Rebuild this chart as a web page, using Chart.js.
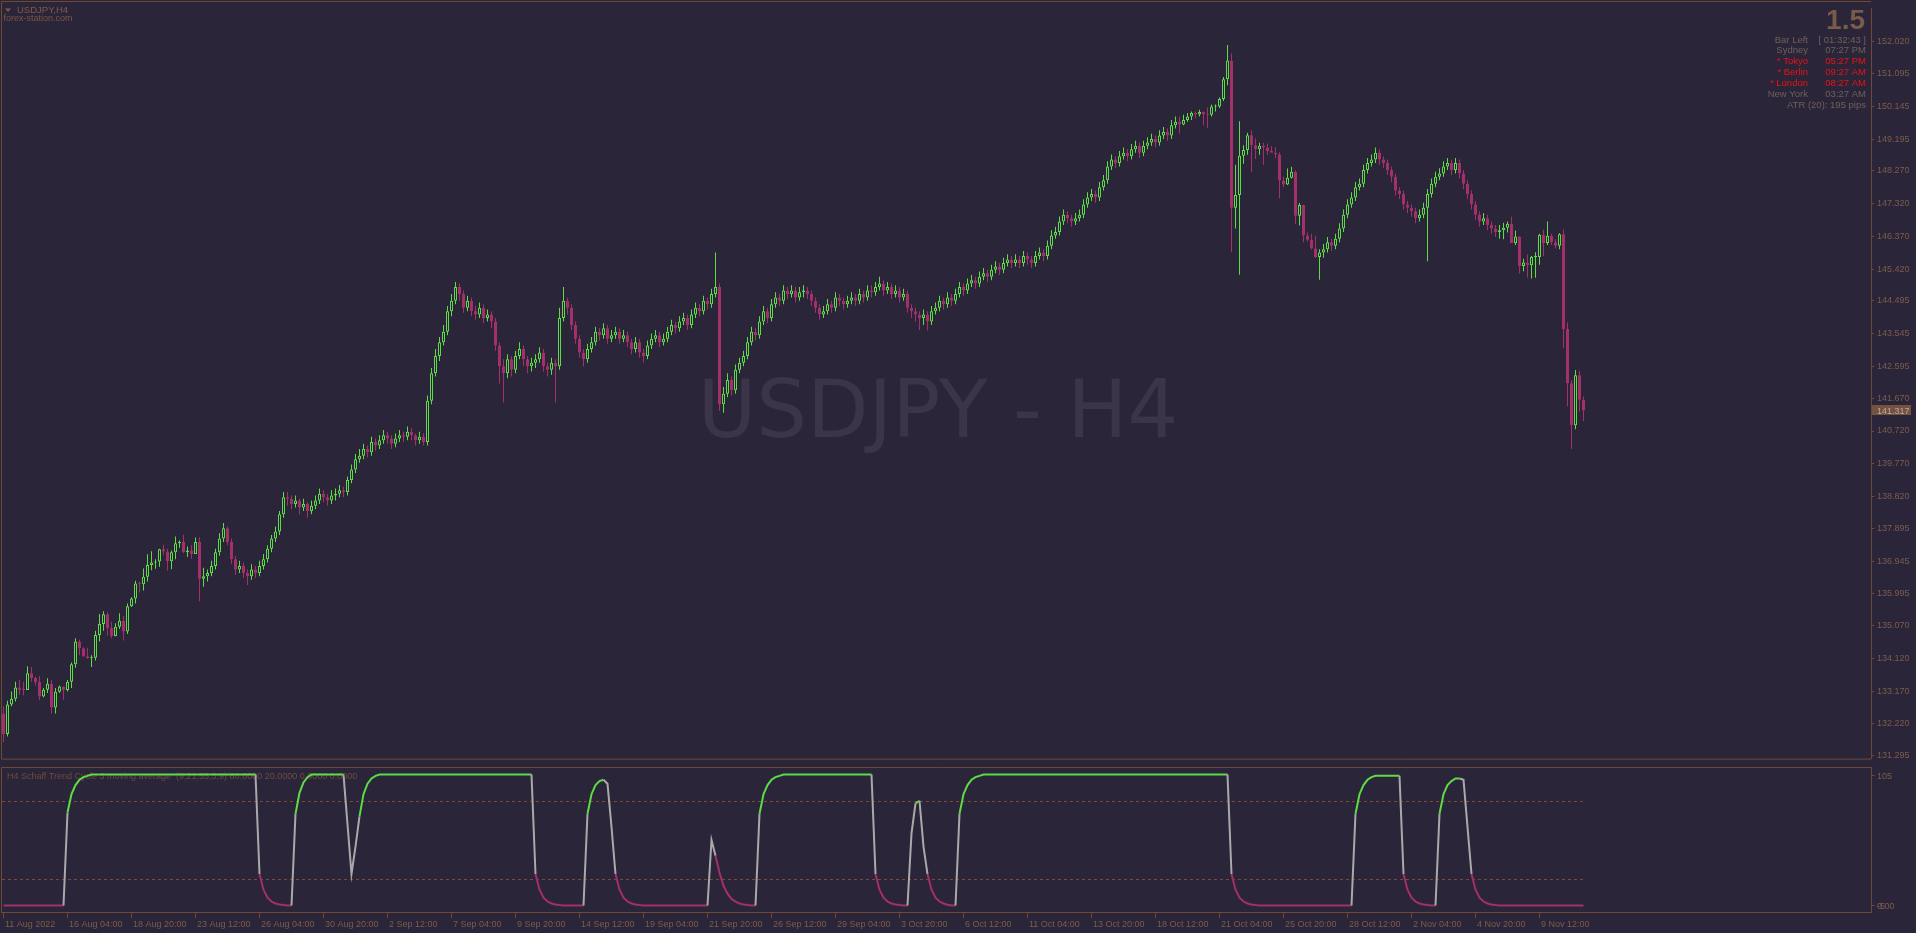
<!DOCTYPE html>
<html>
<head>
<meta charset="utf-8">
<title>USDJPY,H4</title>
<script src="https://cdn.jsdelivr.net/npm/chart.js@4.4.1/dist/chart.umd.min.js"></script>
<style>
  html, body { margin: 0; padding: 0; background: #2a2539; overflow: hidden; }
  #page { position: relative; width: 1916px; height: 933px; background: #2a2539; }
  canvas { position: absolute; left: 0; }
  #price-chart { top: 0; }
  #stc-chart { top: 767px; }
</style>
</head>
<body>
<div id="page">
  <canvas id="price-chart" width="1916" height="767"></canvas>
  <canvas id="stc-chart" width="1916" height="166"></canvas>
</div>
<script>
// --- Data ---
const firstOpen = 132.52;

const closes = [
  // 0
  131.92,132.78,132.95,133.27,133.21,133.20,133.69,133.55,133.43,133.01,
  133.21,133.38,132.69,133.15,133.30,133.20,133.44,133.95,134.61,134.41,
  134.18,134.12,134.14,134.80,135.12,135.40,135.00,134.77,135.04,135.21,
  134.90,135.63,135.86,136.29,136.27,136.49,136.83,136.90,136.93,137.29,
  137.22,136.94,137.20,137.46,137.50,137.21,137.25,137.15,137.50,136.43,
  // 50
  136.50,136.60,136.80,137.20,137.60,137.90,137.50,137.00,136.70,136.80,
  136.60,136.50,136.70,136.60,136.80,137.00,137.30,137.60,137.80,138.30,
  138.80,138.75,138.60,138.70,138.50,138.60,138.40,138.55,138.70,138.90,
  138.80,138.70,138.85,138.90,139.00,138.95,139.30,139.60,139.90,140.00,
  140.20,140.10,140.40,140.30,140.45,140.60,140.50,140.35,140.50,140.60,
  // 100
  140.55,140.70,140.60,140.45,140.55,140.40,141.60,142.40,142.90,143.30,
  143.60,144.20,144.50,144.90,144.70,144.30,144.50,144.20,144.10,144.30,
  144.00,144.10,143.90,143.20,142.60,142.40,142.80,142.50,142.90,143.10,
  142.80,142.60,142.70,142.80,143.00,142.60,142.50,142.70,142.60,144.00,
  144.50,144.30,143.80,143.40,143.00,142.80,143.10,143.30,143.60,143.50,
  // 150
  143.70,143.40,143.50,143.60,143.40,143.50,143.30,143.10,143.30,143.00,
  142.90,143.20,143.40,143.50,143.30,143.40,143.60,143.80,143.70,143.90,
  144.00,143.80,144.10,144.30,144.20,144.50,144.40,144.70,144.90,141.50,
  141.80,142.20,141.90,142.50,142.70,142.90,143.30,143.60,143.50,143.90,
  144.20,144.00,144.40,144.60,144.50,144.80,144.70,144.80,144.60,144.75,
  // 200
  144.80,144.70,144.50,144.30,144.10,144.20,144.40,144.30,144.60,144.50,
  144.40,144.50,144.60,144.50,144.70,144.60,144.80,144.75,144.90,145.00,
  144.80,144.90,144.70,144.80,144.60,144.70,144.30,144.20,144.10,144.00,
  144.10,143.90,144.20,144.30,144.50,144.40,144.60,144.50,144.70,144.90,
  144.80,145.00,145.10,145.00,145.20,145.30,145.20,145.40,145.50,145.40,
  // 250
  145.60,145.70,145.60,145.70,145.60,145.80,145.70,145.60,145.80,145.90,
  145.80,146.10,146.40,146.50,146.80,147.00,146.90,146.80,146.90,147.00,
  147.30,147.50,147.60,147.50,147.80,148.00,148.40,148.60,148.50,148.70,
  148.80,148.70,148.90,149.00,148.80,149.00,149.10,149.20,149.10,149.30,
  149.40,149.30,149.60,149.70,149.62,149.75,149.85,149.95,149.91,149.98,
  // 300
  149.92,149.90,150.14,150.14,150.36,150.93,151.48,147.20,147.57,148.71,
  148.88,149.31,149.02,148.90,149.00,148.95,148.85,148.80,148.75,147.99,
  147.88,148.07,148.25,146.97,147.28,146.40,146.27,146.02,145.77,145.90,
  146.00,146.20,146.10,146.30,146.60,147.00,147.30,147.50,147.80,147.90,
  148.30,148.50,148.60,148.80,148.60,148.50,148.30,148.10,147.70,147.60,
  // 350
  147.30,147.20,147.10,146.90,147.00,147.20,147.60,147.90,148.10,148.20,
  148.40,148.50,148.30,148.50,148.20,147.90,147.60,147.30,147.00,146.80,
  146.90,146.70,146.60,146.50,146.55,146.62,146.74,146.17,146.37,145.51,
  145.61,145.53,145.77,145.77,146.42,146.18,146.39,146.20,146.10,146.43,
  143.68,142.11,140.89,142.34,141.63,141.317
];

const highs = [
  // 0
  132.73,132.89,133.16,133.44,133.49,133.44,133.89,133.87,133.59,133.61,
  133.26,133.54,133.49,133.26,133.33,133.30,133.49,134.00,134.70,134.66,
  134.44,134.43,134.21,134.92,135.41,135.49,135.46,135.18,135.14,135.43,
  135.35,135.71,135.89,136.37,136.35,136.73,137.14,137.23,137.00,137.30,
  137.42,137.30,137.25,137.66,137.54,137.71,137.37,137.40,137.63,137.63,
  // 50
  136.75,136.70,136.95,137.30,137.75,138.05,137.95,137.60,137.10,136.95,
  136.90,136.70,136.85,136.80,136.95,137.15,137.40,137.70,137.95,138.40,
  138.95,138.95,138.85,138.85,138.75,138.75,138.65,138.70,138.85,139.05,
  139.00,138.90,139.00,139.05,139.15,139.10,139.40,139.75,140.05,140.20,
  140.35,140.30,140.55,140.50,140.60,140.75,140.70,140.60,140.65,140.75,
  // 100
  140.70,140.85,140.80,140.65,140.70,140.65,141.75,142.55,143.10,143.45,
  143.80,144.35,144.70,145.05,145.00,144.80,144.65,144.60,144.35,144.45,
  144.40,144.25,144.20,144.00,143.30,142.80,142.95,142.90,143.05,143.30,
  143.20,142.90,142.85,142.95,143.15,143.10,142.70,142.85,142.80,144.30,
  144.90,144.60,144.40,143.90,143.50,143.10,143.25,143.45,143.75,143.70,
  // 150
  143.85,143.80,143.65,143.75,143.70,143.65,143.60,143.40,143.45,143.40,
  143.10,143.35,143.55,143.65,143.60,143.55,143.75,143.95,143.90,144.05,
  144.15,144.10,144.25,144.45,144.40,144.65,144.60,144.85,145.90,145.00,
  142.00,142.40,142.30,142.65,142.85,143.05,143.45,143.75,143.70,144.05,
  144.35,144.30,144.55,144.75,144.70,144.95,144.90,144.95,144.90,144.90,
  // 200
  144.95,144.90,144.80,144.60,144.40,144.35,144.55,144.50,144.75,144.70,
  144.60,144.65,144.75,144.70,144.85,144.80,144.95,144.95,145.05,145.20,
  145.10,145.05,145.00,144.95,144.90,144.85,144.80,144.40,144.30,144.20,
  144.25,144.20,144.35,144.45,144.65,144.60,144.75,144.70,144.85,145.05,
  145.00,145.15,145.25,145.20,145.35,145.45,145.40,145.55,145.65,145.60,
  // 250
  145.75,145.85,145.80,145.85,145.80,145.95,145.90,145.80,145.95,146.05,
  146.00,146.25,146.55,146.65,146.95,147.15,147.10,147.00,147.05,147.15,
  147.45,147.65,147.75,147.70,147.95,148.15,148.55,148.75,148.70,148.85,
  148.95,148.90,149.05,149.15,149.10,149.15,149.25,149.35,149.30,149.45,
  149.55,149.50,149.75,149.85,149.85,149.90,149.95,150.00,150.00,150.05,
  // 300
  150.00,150.12,150.20,150.20,150.40,151.00,151.93,151.68,148.45,149.71,
  149.02,149.38,149.45,149.22,149.09,149.09,149.07,148.99,148.96,148.81,
  148.10,148.34,148.39,148.29,147.34,147.29,146.48,146.45,146.39,146.00,
  146.15,146.35,146.30,146.45,146.75,147.15,147.45,147.65,147.95,148.05,
  148.45,148.65,148.75,148.95,148.90,148.70,148.60,148.40,148.20,147.80,
  // 350
  147.70,147.40,147.30,147.20,147.15,147.35,147.75,148.05,148.25,148.35,
  148.55,148.65,148.60,148.65,148.60,148.30,148.00,147.70,147.40,147.10,
  147.05,147.00,146.80,146.70,146.70,146.77,146.80,146.94,146.54,146.37,
  145.72,145.85,145.80,145.91,146.45,146.56,146.80,146.45,146.29,146.46,
  146.57,143.88,142.20,142.49,142.46,141.72
];

const lows = [
  // 0
  131.69,131.85,132.73,132.87,133.06,133.04,133.21,133.44,133.33,132.90,
  132.99,133.11,132.52,132.52,133.11,132.92,133.16,133.26,133.85,134.21,
  134.16,134.11,133.87,134.06,134.61,134.92,134.78,134.70,134.76,134.97,
  134.64,134.83,135.61,135.71,136.03,136.09,136.35,136.68,136.72,136.78,
  137.11,136.66,136.71,137.00,137.33,137.18,137.06,137.01,137.16,135.78,
  // 50
  136.20,136.35,136.50,136.70,137.10,137.50,137.40,136.85,136.55,136.60,
  136.45,136.25,136.40,136.45,136.50,136.70,136.90,137.20,137.50,137.70,
  138.20,138.55,138.45,138.50,138.30,138.40,138.20,138.30,138.45,138.60,
  138.65,138.55,138.60,138.70,138.80,138.80,138.85,139.20,139.50,139.80,
  139.90,139.95,140.00,140.15,140.20,140.35,140.35,140.20,140.25,140.40,
  // 100
  140.40,140.45,140.45,140.30,140.35,140.30,140.30,141.50,142.30,142.75,
  143.20,143.50,144.05,144.40,144.50,144.15,144.20,144.05,143.95,144.00,
  143.85,143.90,143.70,143.05,142.10,141.55,142.25,142.30,142.40,142.80,
  142.60,142.40,142.45,142.55,142.70,142.45,142.30,142.35,141.55,142.50,
  143.90,144.10,143.65,143.25,142.85,142.60,142.70,143.00,143.20,143.35,
  // 150
  143.40,143.25,143.30,143.40,143.25,143.30,143.15,142.95,143.00,142.85,
  142.70,142.80,143.10,143.30,143.15,143.20,143.30,143.50,143.55,143.60,
  143.80,143.65,143.70,144.00,144.05,144.10,144.25,144.30,144.60,141.30,
  141.25,141.70,141.75,141.80,142.40,142.60,142.80,143.20,143.35,143.40,
  143.80,143.85,143.90,144.30,144.35,144.40,144.55,144.60,144.45,144.50,
  // 200
  144.60,144.55,144.35,144.15,143.95,144.00,144.10,144.15,144.20,144.35,
  144.25,144.30,144.40,144.35,144.40,144.45,144.50,144.60,144.65,144.80,
  144.65,144.70,144.55,144.60,144.45,144.50,144.15,144.00,143.90,143.65,
  143.80,143.64,143.80,144.10,144.20,144.25,144.30,144.35,144.40,144.60,
  144.65,144.70,144.90,144.85,144.90,145.10,145.05,145.10,145.30,145.25,
  // 250
  145.30,145.50,145.45,145.50,145.45,145.50,145.55,145.45,145.50,145.70,
  145.65,145.70,146.00,146.30,146.40,146.70,146.75,146.65,146.70,146.80,
  146.90,147.20,147.40,147.35,147.40,147.70,147.90,148.30,148.35,148.40,
  148.60,148.55,148.60,148.80,148.65,148.70,148.90,149.00,148.95,149.00,
  149.20,149.15,149.20,149.50,149.35,149.60,149.70,149.75,149.80,149.85,
  // 300
  149.60,149.51,149.85,150.00,150.10,150.30,150.76,145.91,146.60,145.26,
  148.48,148.74,148.23,148.62,148.74,148.45,148.74,148.83,148.64,147.48,
  147.80,147.86,148.05,146.72,146.69,146.20,146.22,145.99,145.74,145.11,
  145.75,145.90,145.95,146.00,146.20,146.50,146.90,147.20,147.40,147.70,
  147.80,148.20,148.40,148.50,148.45,148.35,148.15,147.95,147.55,147.45,
  // 350
  147.15,147.05,146.95,146.75,146.80,146.90,145.65,147.50,147.80,148.00,
  148.10,148.30,148.15,148.20,148.05,147.75,147.45,147.15,146.85,146.65,
  146.70,146.55,146.45,146.35,146.30,146.29,146.48,146.18,146.12,145.29,
  145.36,145.17,145.15,145.17,145.55,145.80,146.12,146.12,146.02,146.00,
  143.14,141.44,140.20,140.77,141.28,141.01
];

const stcValues = [
  // 0
  0,0,0,0,0,0,0,0,0,0,
  0,0,0,0,0,0,71,85,92,96,
  98,99,100,100,100,100,100,100,100,100,
  100,100,100,100,100,100,100,100,100,100,
  100,100,100,100,100,100,100,100,100,100,
  100,100,100,100,100,100,100,100,100,100,
  100,100,100,100,24,12,6,3,1.5,0.7,
  0.3,0,0,70,86,94,98,100,100,100,
  100,100,100,100,100,100,62,24,45,68,
  85,93,97,99,100,100,100,100,100,100,
  // 100
  100,100,100,100,100,100,100,100,100,100,
  100,100,100,100,100,100,100,100,100,100,
  100,100,100,100,100,100,100,100,100,100,
  100,100,100,24,12,6,3,1.5,0.7,0.3,
  0,0,0,0,0,0,70,85,92,95,
  96,93,60,24,12,6,3,1.5,0.7,0.3,
  0,0,0,0,0,0,0,0,0,0,
  0,0,0,0,0,0,0,50,38,25,
  15,9,5,3,1.5,0.8,0.3,0,0,70,
  85,92,96,98,99,100,100,100,100,100,
  // 200
  100,100,100,100,100,100,100,100,100,100,
  100,100,100,100,100,100,100,100,24,12,
  6,3,1.5,0.7,0.3,0,0,55,78,80,
  45,24,12,6,3,1.5,0.5,0,0,70,
  85,92,96,98,99,100,100,100,100,100,
  100,100,100,100,100,100,100,100,100,100,
  100,100,100,100,100,100,100,100,100,100,
  100,100,100,100,100,100,100,100,100,100,
  100,100,100,100,100,100,100,100,100,100,
  100,100,100,100,100,100,100,100,100,100,
  // 300
  100,100,100,100,100,100,100,24,12,6,
  3,1.5,0.7,0.3,0,0,0,0,0,0,
  0,0,0,0,0,0,0,0,0,0,
  0,0,0,0,0,0,0,0,70,85,
  92,96,98,99,99,99,99,99,99,99,
  24,12,6,3,1.5,0.7,0.3,0,0,70,
  85,92,95,97,97,96,60,24,12,6,
  3,1.5,0.7,0.3,0,0,0,0,0,0,
  0,0,0,0,0,0,0,0,0,0,
  0,0,0,0,0,0
];

const priceTicks = [
  152.020,151.095,150.145,149.195,148.270,147.320,146.370,145.420,144.495,143.545,
  142.595,141.670,140.720,139.770,138.820,137.895,136.945,135.995,135.070,134.120,
  133.170,132.220,131.295
];
const timeLabelBars = [0,16,32,48,64,80,96,112,128,144,160,176,192,208,224,240,256,272,288,304,320,336,352,368,384];
const timeLabels = [
  '11 Aug 2022','16 Aug 04:00','18 Aug 20:00','23 Aug 12:00','26 Aug 04:00','30 Aug 20:00',
  '2 Sep 12:00','7 Sep 04:00','9 Sep 20:00','14 Sep 12:00','19 Sep 04:00','21 Sep 20:00',
  '26 Sep 12:00','29 Sep 04:00','3 Oct 20:00','6 Oct 12:00','11 Oct 04:00','13 Oct 20:00',
  '18 Oct 12:00','21 Oct 04:00','25 Oct 20:00','28 Oct 12:00','2 Nov 04:00','4 Nov 20:00','9 Nov 12:00'
];
const stcLevels = [80, 20];
const infoRows = [
  ['Bar Left', '[ 01:32:43 ]', false],
  ['Sydney', '07:27 PM', false],
  ['* Tokyo', '05:27 PM', true],
  ['* Berlin', '09:27 AM', true],
  ['* London', '08:27 AM', true],
  ['New York', '03:27 AM', false]
];

// --- Colours ---
const BG = '#2a2539';
const GREEN = '#5cdc46';
const MAGENTA = '#a3306a';
const GRAY_LINE = '#a9a9a9';
const FRAME = '#6e4a36';
const AXIS_TEXT = '#7d5c4c';
const INFO_TEXT = '#6f605a';
const RED_TEXT = '#e81414';
const WATERMARK = '#3a3549';
const FONT = '"Liberation Sans", Arial, sans-serif';

const opens = closes.map((c, i) => (i === 0 ? firstOpen : closes[i - 1]));
const isUp = i => closes[i] >= opens[i];

const X_MIN = -0.375;
const X_MAX = 466.875;

// --- Price panel ---
const priceDecor = {
  id: 'priceDecor',
  beforeDatasetsDraw(chart) {
    const ctx = chart.ctx;
    ctx.save();
    ctx.fillStyle = WATERMARK;
    ctx.font = '80px "DejaVu Sans"';
    ctx.textAlign = 'center';
    ctx.fillText('USDJPY - H4', 938, 437);
    ctx.restore();
  },
  afterDraw(chart) {
    const { ctx, chartArea: a, scales: { y } } = chart;
    ctx.save();
    // frame
    ctx.strokeStyle = FRAME;
    ctx.lineWidth = 1;
    ctx.beginPath();
    ctx.moveTo(1.5, a.bottom + 0.5); ctx.lineTo(1.5, 1.5); ctx.lineTo(a.right, 1.5);
    ctx.moveTo(1.5, a.bottom + 0.5); ctx.lineTo(a.right, a.bottom + 0.5);
    ctx.stroke();

    // symbol caption
    ctx.fillStyle = '#83594a';
    ctx.beginPath();
    ctx.moveTo(5, 8.5); ctx.lineTo(11, 8.5); ctx.lineTo(8, 12);
    ctx.closePath(); ctx.fill();
    ctx.font = '9.5px ' + FONT;
    ctx.textAlign = 'left';
    ctx.fillText('USDJPY,H4', 17, 13.3);
    ctx.fillStyle = '#7a5646';
    ctx.font = '9px ' + FONT;
    ctx.fillText('forex-station.com', 3.5, 21);

    // info block
    ctx.textAlign = 'right';
    ctx.fillStyle = '#7a5a48';
    ctx.font = 'bold 28px ' + FONT;
    ctx.fillText('1.5', 1865, 29.3);
    ctx.font = '9.5px ' + FONT;
    infoRows.forEach((row, k) => {
      const base = 42.5 + k * 10.95;
      ctx.fillStyle = row[2] ? RED_TEXT : INFO_TEXT;
      ctx.fillText(row[0], 1808, base);
      ctx.fillText(row[1], 1866, base);
    });
    ctx.fillStyle = INFO_TEXT;
    ctx.fillText('ATR (20): 195 pips', 1866, 108.2);

    // last price box
    const last = closes[closes.length - 1];
    const py = y.getPixelForValue(last);
    ctx.fillStyle = '#75523f';
    ctx.fillRect(a.right + 1, Math.round(py) - 5, 39, 10);
    ctx.fillStyle = '#b9aaa0';
    ctx.textAlign = 'left';
    ctx.font = '9px ' + FONT;
    ctx.fillText(last.toFixed(3), 1877, Math.round(py) + 3.5);
    ctx.restore();
  }
};

new Chart(document.getElementById('price-chart'), {
  type: 'bar',
  data: {
    datasets: [
      {
        label: 'body',
        data: closes.map((c, i) => ({ x: i, y: [opens[i], c] })),
        backgroundColor: ctx => (ctx.raw && isUp(ctx.raw.x) ? BG : MAGENTA),
        borderColor: ctx => (ctx.raw && isUp(ctx.raw.x) ? GREEN : MAGENTA),
        borderWidth: 1,
        borderSkipped: false,
        barThickness: 3,
        minBarLength: 1,
        inflateAmount: 0,
        grouped: false,
        order: 1
      },
      {
        label: 'wick',
        data: closes.map((c, i) => ({ x: i, y: [lows[i], highs[i]] })),
        backgroundColor: ctx => (ctx.raw && isUp(ctx.raw.x) ? GREEN : MAGENTA),
        borderWidth: 0,
        barThickness: 1,
        inflateAmount: 0,
        grouped: false,
        order: 2
      }
    ]
  },
  options: {
    responsive: false,
    animation: false,
    devicePixelRatio: 1,
    layout: { padding: { left: 2, top: 2, bottom: 2, right: 0 } },
    plugins: { legend: { display: false }, tooltip: { enabled: false } },
    scales: {
      x: { type: 'linear', display: false, min: X_MIN, max: X_MAX, offset: false },
      y: {
        position: 'right',
        min: 131.209,
        max: 152.99,
        afterBuildTicks: s => { s.ticks = priceTicks.map(v => ({ value: v })); },
        afterFit: s => { s.width = 45; },
        grid: { drawOnChartArea: false, tickLength: 3, tickColor: FRAME, color: FRAME },
        border: { color: FRAME, width: 1 },
        ticks: {
          autoSkip: false,
          padding: 3,
          color: AXIS_TEXT,
          font: { family: FONT, size: 9 },
          callback: v => Number(v).toFixed(3)
        }
      }
    }
  },
  plugins: [priceDecor]
});

// --- Schaff trend cycle panel ---
function stcColor(v0, v1) {
  if (Math.abs(v1 - v0) >= 20) return GRAY_LINE;
  if (v1 > v0) return v0 >= 50 ? GREEN : GRAY_LINE;
  if (v1 < v0) return v0 < 50 ? MAGENTA : GRAY_LINE;
  return v1 >= 50 ? GREEN : MAGENTA;
}

const stcDecor = {
  id: 'stcDecor',
  beforeDatasetsDraw(chart) {
    const { ctx, chartArea: a, scales: { x, y } } = chart;
    ctx.save();
    ctx.strokeStyle = '#7a4a38';
    ctx.lineWidth = 1;
    ctx.setLineDash([3, 3]);
    const xEnd = x.getPixelForValue(closes.length - 1);
    stcLevels.forEach(v => {
      const py = Math.round(y.getPixelForValue(v)) + 0.5;
      ctx.beginPath(); ctx.moveTo(a.left, py); ctx.lineTo(xEnd, py); ctx.stroke();
    });
    ctx.setLineDash([]);
    ctx.fillStyle = '#6e4c3e';
    ctx.font = '9px ' + FONT;
    ctx.textAlign = 'left';
    ctx.fillText('H4 Schaff Trend Cycle 3 moving average  (9,21,55,3,9) 80.0000 20.0000 0.0000 0.0000', 7, 12.3);
    ctx.restore();
  },
  afterDraw(chart) {
    const { ctx, chartArea: a, scales: { x, y } } = chart;
    ctx.save();
    ctx.strokeStyle = FRAME;
    ctx.lineWidth = 1;
    ctx.beginPath();
    ctx.moveTo(1.5, 0.5); ctx.lineTo(1871.5, 0.5);
    ctx.moveTo(1.5, 0.5); ctx.lineTo(1.5, a.bottom + 0.5);
    ctx.moveTo(1, a.bottom + 0.5); ctx.lineTo(1872, a.bottom + 0.5);
    ctx.moveTo(1871.5, 0); ctx.lineTo(1871.5, a.bottom + 1);
    [100, 0].forEach(v => {
      const py = Math.round(y.getPixelForValue(v)) + 0.5;
      ctx.moveTo(1871.5, py); ctx.lineTo(1874.5, py);
    });
    timeLabelBars.forEach(b => {
      const px = x.getPixelForValue(b);
      ctx.moveTo(px, a.bottom + 1); ctx.lineTo(px, a.bottom + 6);
    });
    ctx.stroke();

    ctx.fillStyle = AXIS_TEXT;
    ctx.font = '9px ' + FONT;
    ctx.textAlign = 'left';
    ctx.fillText('105', 1877, Math.round(y.getPixelForValue(100)) + 3.5);
    ctx.fillText('0.00', 1877, Math.round(y.getPixelForValue(0)) + 3.5);
    ctx.fillText('-5', 1877, Math.round(y.getPixelForValue(0)) + 3.5);

    timeLabelBars.forEach((b, k) => {
      ctx.fillText(timeLabels[k], x.getPixelForValue(b) + 1.5, 160);
    });
    ctx.restore();
  }
};

new Chart(document.getElementById('stc-chart'), {
  type: 'line',
  data: {
    datasets: [{
      label: 'STC',
      data: stcValues.map((v, i) => ({ x: i, y: v })),
      borderWidth: 2,
      pointRadius: 0,
      tension: 0,
      borderColor: GREEN,
      segment: { borderColor: ctx => stcColor(ctx.p0.parsed.y, ctx.p1.parsed.y) }
    }]
  },
  options: {
    responsive: false,
    animation: false,
    devicePixelRatio: 1,
    layout: { padding: { left: 2, top: 1, bottom: 21, right: 45 } },
    plugins: { legend: { display: false }, tooltip: { enabled: false } },
    scales: {
      x: { type: 'linear', display: false, min: X_MIN, max: X_MAX },
      y: { display: false, min: -5, max: 105 }
    }
  },
  plugins: [stcDecor]
});
</script>
</body>
</html>
